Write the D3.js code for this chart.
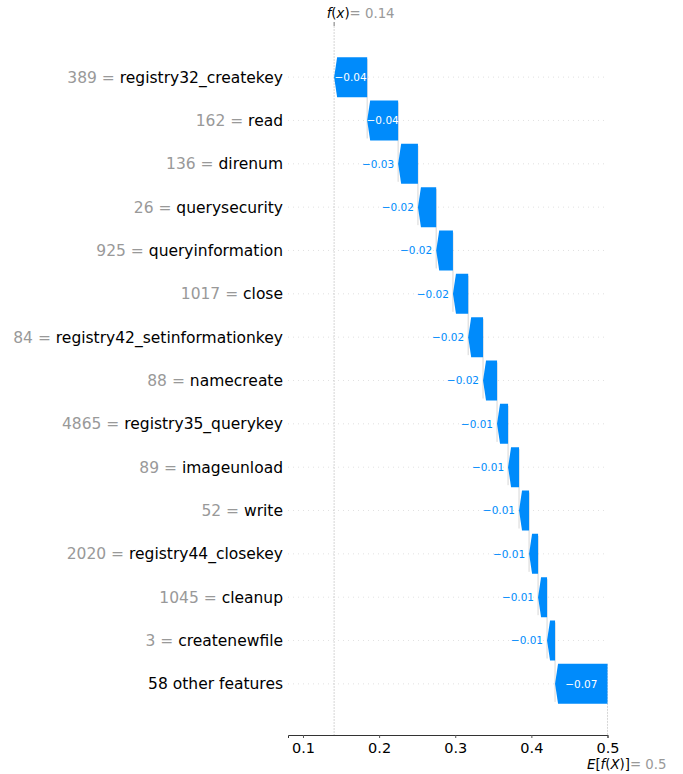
<!DOCTYPE html>
<html>
<head>
<meta charset="utf-8">
<script src="https://cdn.jsdelivr.net/npm/d3@7/dist/d3.min.js"></script>
<style>
  html, body { margin: 0; padding: 0; background: #ffffff; }
  svg { display: block; font-family: "DejaVu Sans", sans-serif; }
</style>
</head>
<body>
<svg id="chart" width="683" height="774"></svg>
<script>
// Waterfall of feature contributions, from the base value E[f(X)] up to f(x)
const featureNames = [
  "registry32_createkey", "read", "direnum", "querysecurity", "queryinformation",
  "close", "registry42_setinformationkey", "namecreate", "registry35_querykey",
  "imageunload", "write", "registry44_closekey", "cleanup", "createnewfile",
  "58 other features"
];
const featureValues = [
  "389", "162", "136", "26", "925", "1017", "84", "88", "4865",
  "89", "52", "2020", "1045", "3", ""
];
const shapValues = [
  -0.0434, -0.0407, -0.026, -0.024, -0.022, -0.020, -0.0195, -0.0184,
  -0.0145, -0.0144, -0.0132, -0.0118, -0.0118, -0.0105, -0.0689
];
const baseValue = 0.5;
const xTicks = [0.1, 0.2, 0.3, 0.4, 0.5];

const svg = d3.select("#chart");
const blue = "#008bfb";
const gray = "#999999";

const n = featureNames.length;
const x = d3.scaleLinear().domain([0.0803, 0.5]).range([288, 607.5]);
const y = d3.scaleLinear().domain([-1.18, n - 1 + 1.18]).range([26, 735]);
const barH = 40;
const headLen = 3;

// cumulative positions: bottom row starts at the base value
const rows = [];
let cur = baseValue;
for (let i = n - 1; i >= 0; i--) {
  const start = cur;
  const end = cur + shapValues[i];
  rows[i] = { i, start, end, v: shapValues[i] };
  cur = end;
}
const fx = cur;

// horizontal dotted gridlines for each row
svg.append("g").selectAll("line").data(rows).join("line")
  .attr("x1", x.range()[0]).attr("x2", x.range()[1])
  .attr("y1", d => y(d.i)).attr("y2", d => y(d.i))
  .attr("stroke", "#cccccc").attr("stroke-width", 0.6)
  .attr("stroke-dasharray", "1,4");

// f(x) reference line across the full height, E[f(X)] line under the last row
svg.append("line")
  .attr("x1", x(fx)).attr("x2", x(fx))
  .attr("y1", 26).attr("y2", 735)
  .attr("stroke", "#bbbbbb").attr("stroke-width", 0.6)
  .attr("stroke-dasharray", "2,1");
svg.append("line")
  .attr("x1", x(fx)).attr("x2", x(fx))
  .attr("y1", 22).attr("y2", 26)
  .attr("stroke", "#555").attr("stroke-width", 0.8);
svg.append("line")
  .attr("x1", x(baseValue)).attr("x2", x(baseValue))
  .attr("y1", y(n - 1) - barH / 2).attr("y2", 735)
  .attr("stroke", "#bbbbbb").attr("stroke-width", 0.6)
  .attr("stroke-dasharray", "2,1");

// connectors between consecutive bars
svg.append("g").selectAll("line").data(rows.filter(d => d.i > 0)).join("line")
  .attr("x1", d => x(d.end)).attr("x2", d => x(d.end))
  .attr("y1", d => y(d.i) + barH / 2 - 2).attr("y2", d => y(d.i - 1) - barH / 2 + 2)
  .attr("stroke", "#bbbbbb").attr("stroke-width", 0.6);

// arrow-shaped bars pointing left (negative contributions)
function arrowPath(d) {
  const xr = x(d.start), xl = x(d.end);
  const cy = y(d.i), t = cy - barH / 2, b = cy + barH / 2;
  const hl = Math.min(headLen, xr - xl);
  return `M${xr},${t}L${xl + hl},${t}L${xl},${cy}L${xl + hl},${b}L${xr},${b}Z`;
}
svg.append("g").selectAll("path").data(rows).join("path")
  .attr("d", arrowPath)
  .attr("fill", blue);

// value labels: inside wide bars, to the left of narrow ones
const fmt = v => "\u2212" + d3.format(".2f")(Math.abs(v));
svg.append("g").selectAll("text").data(rows).join("text")
  .each(function (d) {
    const w = x(d.start) - x(d.end);
    const inside = w > 28;
    d3.select(this)
      .attr("x", inside ? (x(d.start) + x(d.end)) / 2 : x(d.end) - 4)
      .attr("text-anchor", inside ? "middle" : "end")
      .attr("fill", inside ? "#ffffff" : blue);
  })
  .attr("y", d => y(d.i))
  .attr("dy", "0.36em")
  .attr("font-size", "10.5px")
  .text(d => fmt(d.v));

// feature labels
const lab = svg.append("g").selectAll("text").data(rows).join("text")
  .attr("x", 283)
  .attr("y", d => y(d.i))
  .attr("dy", "0.36em")
  .attr("text-anchor", "end")
  .attr("font-size", "15.5px");
lab.append("tspan").attr("fill", gray)
  .text(d => featureValues[d.i] ? featureValues[d.i] + " = " : "");
lab.append("tspan").attr("fill", "#000")
  .text(d => featureNames[d.i]);

// bottom axis
const axis = svg.append("g").attr("transform", "translate(0,735)")
  .call(d3.axisBottom(x).tickValues(xTicks).tickSize(3).tickPadding(5)
    .tickFormat(d3.format(".1f")));
axis.select(".domain").attr("stroke", "#333").attr("stroke-width", 1);
axis.selectAll(".tick line").attr("stroke", "#555");
axis.selectAll(".tick text")
  .attr("font-family", "DejaVu Sans, sans-serif")
  .attr("font-size", "14.5px").attr("fill", "#000");

// f(x) annotation on top
const fxLabel = svg.append("text")
  .attr("x", x(fx) - 7.5).attr("y", 18)
  .attr("font-size", "13.3px");
fxLabel.append("tspan").attr("font-style", "italic").text("f");
fxLabel.append("tspan").text("(");
fxLabel.append("tspan").attr("font-style", "italic").text("x");
fxLabel.append("tspan").text(")");
fxLabel.append("tspan").attr("fill", gray).text("= " + d3.format(".2f")(fx));

// E[f(X)] annotation under the base-value tick
const baseLabel = svg.append("text")
  .attr("x", x(baseValue) - 20.5).attr("y", 769)
  .attr("font-size", "13.3px");
baseLabel.append("tspan").attr("font-style", "italic").text("E");
baseLabel.append("tspan").text("[");
baseLabel.append("tspan").attr("font-style", "italic").text("f");
baseLabel.append("tspan").text("(");
baseLabel.append("tspan").attr("font-style", "italic").text("X");
baseLabel.append("tspan").text(")]");
baseLabel.append("tspan").attr("fill", gray).text("= " + d3.format(".1f")(baseValue));
</script>
</body>
</html>
